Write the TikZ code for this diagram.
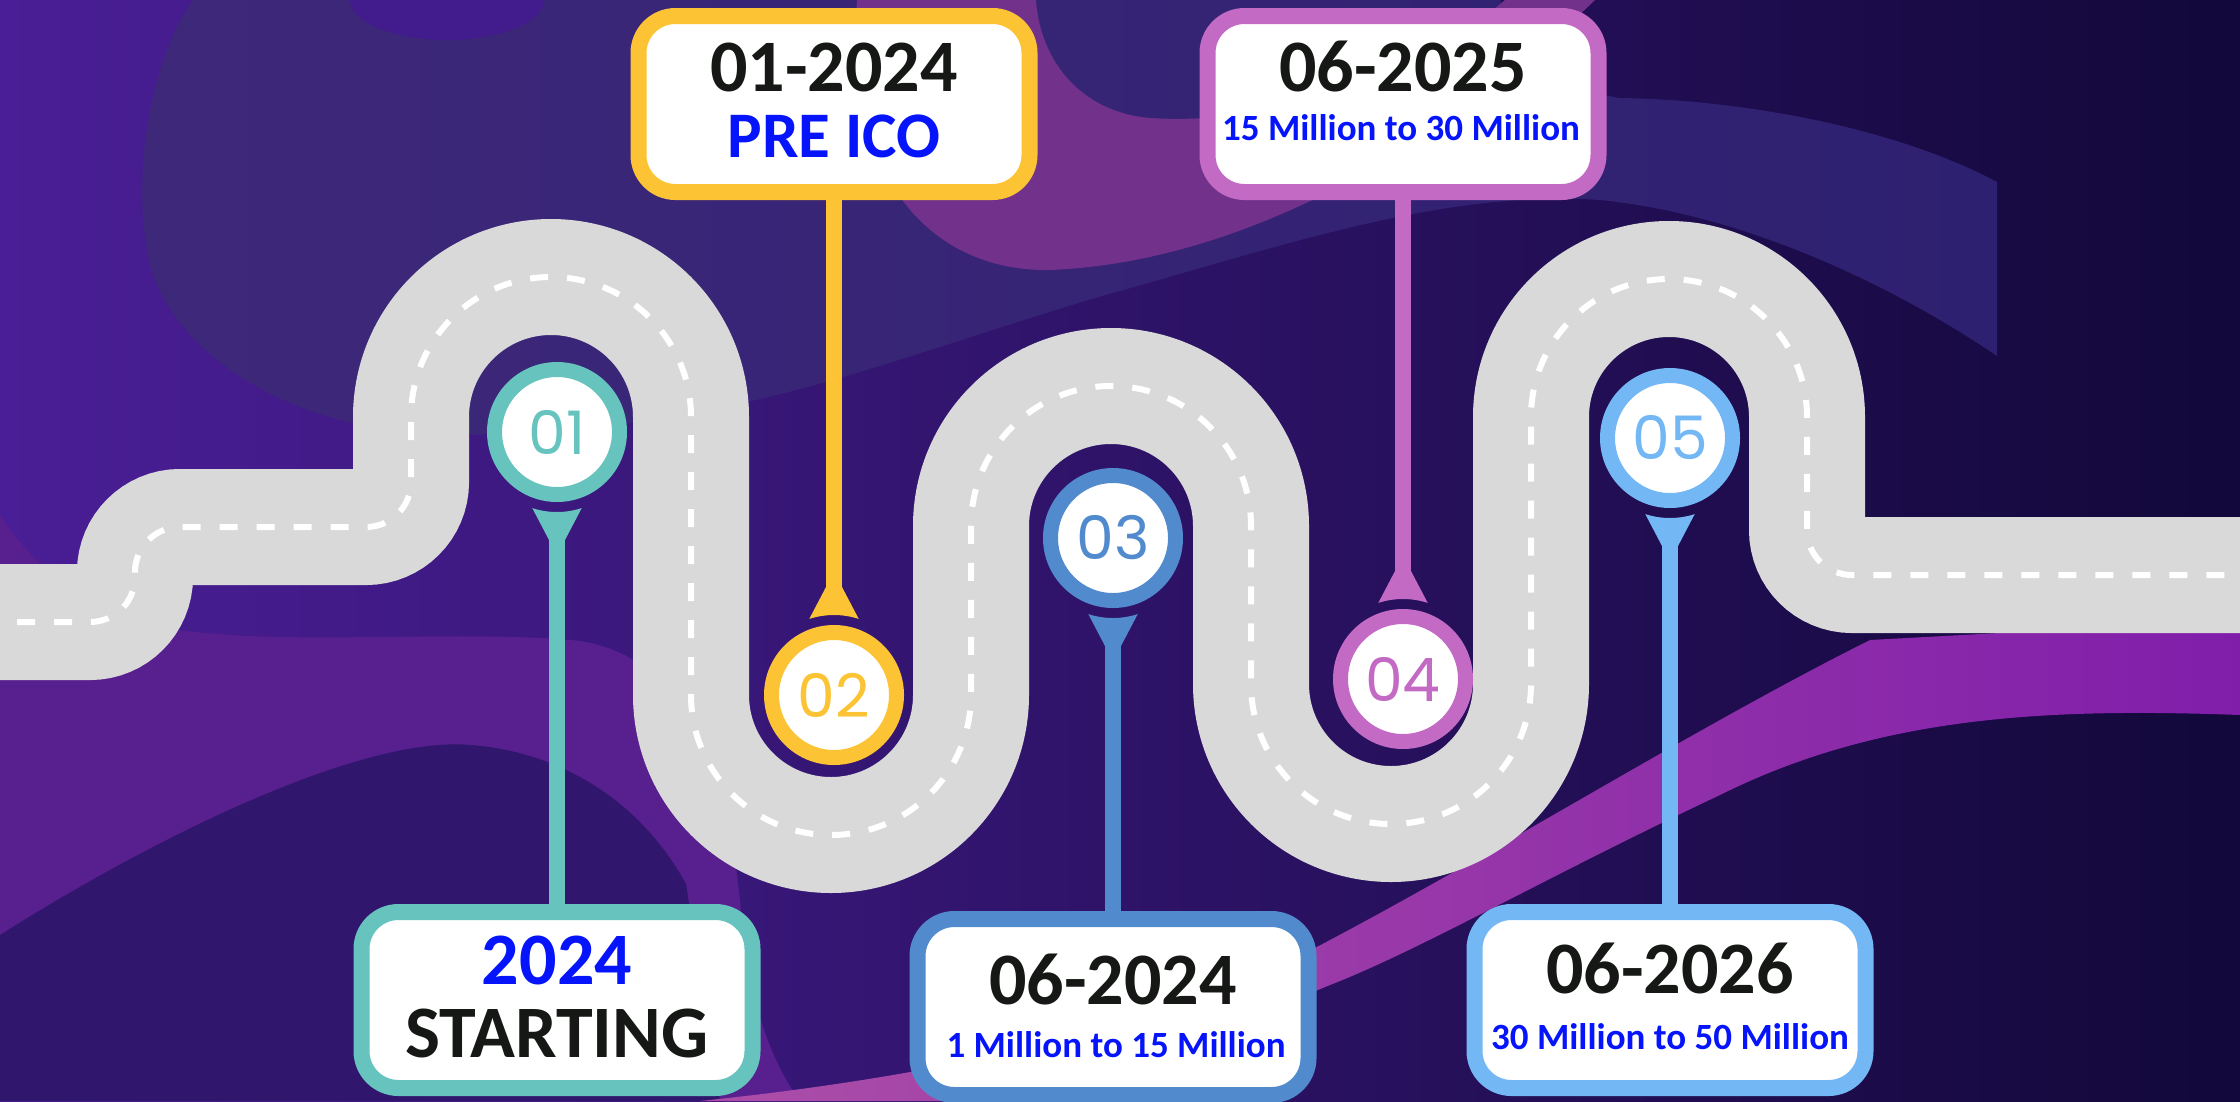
\documentclass[tikz,border=0pt]{standalone}
\usepackage{fontspec}
\setmainfont{Carlito}
\newfontfamily\numfont{Poppins}
\usetikzlibrary{calc}

\definecolor{basel}{RGB}{74,30,150}
\definecolor{basem}{RGB}{40,18,102}
\definecolor{baser}{RGB}{18,8,58}
\definecolor{blobl}{RGB}{62,40,122}
\definecolor{blobr}{RGB}{46,32,112}
\definecolor{violetspot}{RGB}{66,27,140}
\definecolor{pinkblob}{RGB}{114,50,140}
\definecolor{purplel}{RGB}{88,32,142}
\definecolor{darkblob}{RGB}{48,22,108}
\definecolor{bandl}{RGB}{172,78,168}
\definecolor{bandr}{RGB}{128,30,170}
\definecolor{roadgray}{RGB}{217,217,217}
\definecolor{cteal}{RGB}{102,195,190}
\definecolor{cyellow}{RGB}{252,196,52}
\definecolor{cblue}{RGB}{82,139,205}
\definecolor{corchid}{RGB}{195,106,196}
\definecolor{clight}{RGB}{116,183,245}
\definecolor{txtdark}{RGB}{22,24,22}
\definecolor{txtblue}{RGB}{5,20,250}

\newcommand\PinDown[2]{\fill[#1] ($(#2.center)+(8,108)$) -- ($(#2.center)+(72:80)$) arc[start angle=72,end angle=108,radius=80] -- ($(#2.center)+(-8,108)$) -- cycle;}
\newcommand\PinUp[2]{\fill[#1] ($(#2.center)+(8,-108)$) -- ($(#2.center)+(288:80)$) arc[start angle=288,end angle=252,radius=80] -- ($(#2.center)+(-8,-108)$) -- cycle;}

\tikzset{
  roadline/.style={draw=white, line width=6pt, dash pattern=on 18pt off 19pt,
    preaction={draw=roadgray, line width=116pt, solid}},
  milestone/.style={circle, draw=#1, line width=15pt, fill=white, minimum size=125pt,
    inner sep=0pt, outer sep=0pt, text=#1, font=\numfont\fontsize{60}{60}\selectfont},
  board/.style={rectangle, draw=#1, line width=16pt, fill=white, rounded corners=37pt,
    minimum width=391pt, minimum height=176pt, inner sep=0pt, outer sep=0pt},
  stemline/.style={draw=#1, line width=16pt, shorten <=27pt},
  txtbig/.style={font=\bfseries\fontsize{74}{74}\selectfont, inner sep=0pt},
  txtmid/.style={font=\bfseries\fontsize{65}{65}\selectfont, inner sep=0pt},
  txtsmall/.style={font=\bfseries\fontsize{37}{37}\selectfont, inner sep=0pt},
}

\begin{document}
\begin{tikzpicture}[x=1pt,y=-1pt]
\useasboundingbox (0,0) rectangle (2240,1101);
\clip (0,0) rectangle (2240,1101);

% background
\shade[left color=basel, middle color=basem, right color=baser] (0,0) rectangle (2240,1101);
\shade[left color=blobl, right color=blobr]
  (193,0) .. controls (150,60) and (130,180) .. (150,265)
  .. controls (170,340) and (260,410) .. (380,428)
  .. controls (520,448) and (700,420) .. (850,375)
  .. controls (950,345) and (1050,310) .. (1120,291)
  .. controls (1300,240) and (1450,190) .. (1600,200)
  .. controls (1750,215) and (1900,290) .. (1997,356)
  -- (1997,182)
  .. controls (1900,130) and (1750,100) .. (1620,98)
  .. controls (1560,90) and (1520,40) .. (1500,0) -- cycle;
\fill[violetspot] (447,0) ellipse[x radius=97, y radius=40];
\fill[pinkblob] (857,0) .. controls (845,190) and (940,272) .. (1050,270)
  .. controls (1250,262) and (1450,140) .. (1595,0) -- (1505,0)
  .. controls (1400,90) and (1260,125) .. (1150,118)
  .. controls (1080,112) and (1040,60) .. (1036,0) -- cycle;
\fill[purplel] (0,515) .. controls (40,575) and (100,625) .. (186,631)
  .. controls (300,645) and (450,630) .. (571,640)
  .. controls (680,650) and (725,760) .. (740,900)
  .. controls (748,1000) and (770,1060) .. (800,1101) -- (0,1101) -- cycle;
\fill[darkblob] (0,935) .. controls (150,840) and (360,735) .. (471,745)
  .. controls (560,752) and (640,800) .. (686,884) -- (720,1101) -- (0,1101) -- cycle;
\shade[left color=bandl, right color=bandr]
  (700,1101) .. controls (1000,1070) and (1200,1010) .. (1330,940)
  .. controls (1500,850) and (1700,725) .. (1870,640) -- (2240,620) -- (2240,715)
  .. controls (2050,708) and (1880,715) .. (1720,795)
  .. controls (1550,875) and (1420,950) .. (1330,985)
  .. controls (1150,1060) and (1000,1090) .. (950,1101) -- cycle;

% road
\draw[roadline] (-20,622) -- (90,622) arc[start angle=90,end angle=0,radius=45]
  -- (135,572) arc[start angle=180,end angle=270,radius=45]
  -- (366,527) arc[start angle=90,end angle=0,radius=45]
  -- (411,417) arc[start angle=180,end angle=360,radius=140]
  -- (691,695) arc[start angle=180,end angle=0,radius=140]
  -- (971,526) arc[start angle=180,end angle=360,radius=140]
  -- (1251,684) arc[start angle=180,end angle=0,radius=140]
  -- (1531,417) arc[start angle=180,end angle=360,radius=138]
  -- (1807,530) arc[start angle=180,end angle=90,radius=45]
  -- (2260,575);

% milestones
\node[milestone=cteal] (c1) at (557,432) {01};
\node[milestone=cyellow] (c2) at (834,695) {02};
\node[milestone=cblue] (c3) at (1113,538) {03};
\node[milestone=corchid] (c4) at (1403,679) {04};
\node[milestone=clight] (c5) at (1670,438) {05};

% boards
\node[board=cteal] (b1) at (557,1000) {};
\node[board=cyellow] (b2) at (834,104) {};
\node[board=cblue] (b3) at (1113,1007) {};
\node[board=corchid] (b4) at (1403,104) {};
\node[board=clight] (b5) at (1670,1000) {};

% stems and pointers
\draw[stemline=cteal] (c1) -- (b1);
\draw[stemline=cyellow] (c2) -- (b2);
\draw[stemline=cblue] (c3) -- (b3);
\draw[stemline=corchid] (c4) -- (b4);
\draw[stemline=clight] (c5) -- (b5);
\PinDown{cteal}{c1}
\PinUp{cyellow}{c2}
\PinDown{cblue}{c3}
\PinUp{corchid}{c4}
\PinDown{clight}{c5}

% texts
\node[txtbig, text=txtblue] (t1a) at (557,960) {2024};
\node[txtbig, text=txtdark] (t1b) at (557,1033) {STARTING};
\node[txtbig, text=txtdark] (t2a) at (834,67) {01-2024};
\node[txtmid, text=txtblue] (t2b) at (834,136) {PRE ICO};
\node[txtbig, text=txtdark] (t3a) at (1113,979) {06-2024};
\node[txtsmall, text=txtblue] (t3b) at (1116,1045) {1 Million to 15 Million};
\node[txtbig, text=txtdark] (t4a) at (1403,67) {06-2025};
\node[txtsmall, text=txtblue] (t4b) at (1401,128) {15 Million to 30 Million};
\node[txtbig, text=txtdark] (t5a) at (1670,968) {06-2026};
\node[txtsmall, text=txtblue] (t5b) at (1670,1037) {30 Million to 50 Million};
\end{tikzpicture}
\end{document}
